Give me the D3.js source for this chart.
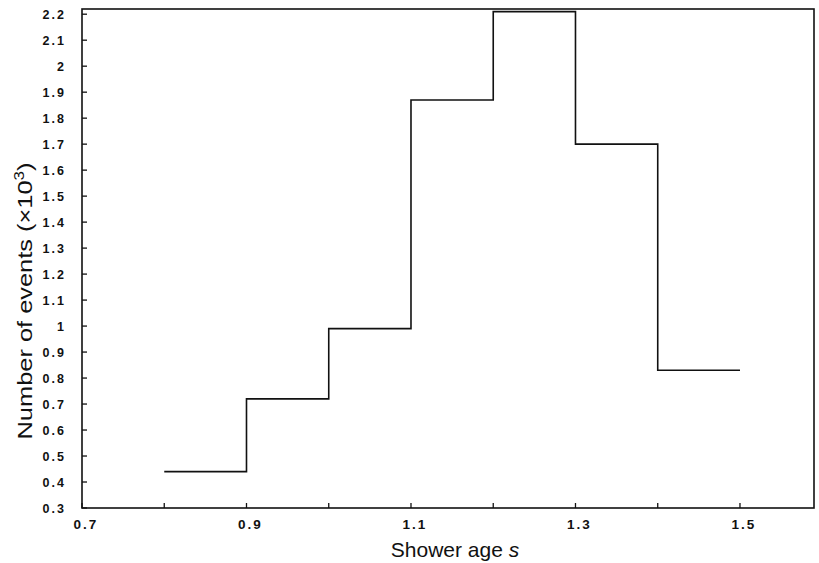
<!DOCTYPE html>
<html>
<head>
<meta charset="utf-8">
<script src="https://cdn.jsdelivr.net/npm/d3@7"></script>
<style>
  body { margin: 0; background: #fff; }
  svg { display: block; }
  .tick-label { font-family: "Liberation Sans", Arial, sans-serif; font-weight: bold; fill: #111; }
  .axis-title { font-family: "Liberation Sans", Arial, sans-serif; fill: #111; }
</style>
</head>
<body>
<div id="chart"></div>
<script>
// --- Data ---
const binEdges = [0.8, 0.9, 1.0, 1.1, 1.2, 1.3, 1.4, 1.5];
const binCounts = [0.44, 0.72, 0.99, 1.87, 2.21, 1.70, 0.83];   // x10^3 events
const yTickValues = [2.2, 2.1, 2.0, 1.9, 1.8, 1.7, 1.6, 1.5, 1.4, 1.3, 1.2, 1.1, 1.0, 0.9, 0.8, 0.7, 0.6, 0.5, 0.4, 0.3];
const xTickValues = [0.7, 0.8, 0.9, 1.0, 1.1, 1.2, 1.3, 1.4, 1.5];
const xLabelValues = [0.7, 0.9, 1.1, 1.3, 1.5];

const W = 819, H = 563;
const ink = '#111';

const svg = d3.select('#chart').append('svg')
    .attr('width', W)
    .attr('height', H);

// Scales
const x = d3.scaleLinear().domain([0.7, 1.59]).range([82, 814]);
const y = d3.scaleLinear().domain([0.3, 2.22]).range([508, 9]);

const [x0, x1] = x.range();
const [y0, y1] = y.range();

// Frame
svg.append('rect')
    .attr('x', x0).attr('y', y1)
    .attr('width', x1 - x0).attr('height', y0 - y1)
    .attr('fill', 'none')
    .attr('stroke', ink)
    .attr('stroke-width', 1.6);

// Y ticks (inward) + labels
const gy = svg.append('g');
yTickValues.forEach(v => {
    gy.append('line')
        .attr('x1', x0).attr('x2', x0 + 5)
        .attr('y1', y(v)).attr('y2', y(v))
        .attr('stroke', ink).attr('stroke-width', 1.3);
    gy.append('text')
        .attr('class', 'tick-label')
        .attr('x', 66).attr('y', y(v))
        .attr('dy', '0.36em')
        .attr('text-anchor', 'end')
        .style('font-size', '12.5px')
        .style('letter-spacing', '2px')
        .text(d3.format('~g')(v));
});

// X ticks (inward) + labels
const gx = svg.append('g');
xTickValues.forEach(v => {
    gx.append('line')
        .attr('x1', x(v)).attr('x2', x(v))
        .attr('y1', y0).attr('y2', y0 - 5)
        .attr('stroke', ink).attr('stroke-width', 1.3);
});
xLabelValues.forEach(v => {
    gx.append('text')
        .attr('class', 'tick-label')
        .attr('x', x(v) + 4).attr('y', 529)
        .attr('text-anchor', 'middle')
        .style('font-size', '13.5px')
        .style('letter-spacing', '2px')
        .text(d3.format('.1f')(v));
});

// Histogram outline (step line, no drop to the axis at the ends)
const stepPoints = [];
binCounts.forEach((c, i) => {
    stepPoints.push([binEdges[i], c]);
    stepPoints.push([binEdges[i + 1], c]);
});
svg.append('path')
    .datum(stepPoints)
    .attr('d', d3.line().x(d => x(d[0])).y(d => y(d[1])))
    .attr('fill', 'none')
    .attr('stroke', ink)
    .attr('stroke-width', 1.6);

// Axis titles
const xt = svg.append('text')
    .attr('class', 'axis-title')
    .attr('x', 455).attr('y', 557)
    .attr('text-anchor', 'middle')
    .style('font-size', '21px');
xt.append('tspan').text('Shower age ');
xt.append('tspan').style('font-style', 'italic').text('s');

const yt = svg.append('text')
    .attr('class', 'axis-title')
    .attr('transform', `translate(32, ${301}) rotate(-90)`)
    .attr('text-anchor', 'middle')
    .attr('textLength', 277)
    .attr('lengthAdjust', 'spacingAndGlyphs')
    .style('font-size', '21px');
yt.append('tspan').text('Number of events (×10');
yt.append('tspan').attr('dy', -8).style('font-size', '14px').text('3');
yt.append('tspan').attr('dy', 8).text(')');
</script>
</body>
</html>
